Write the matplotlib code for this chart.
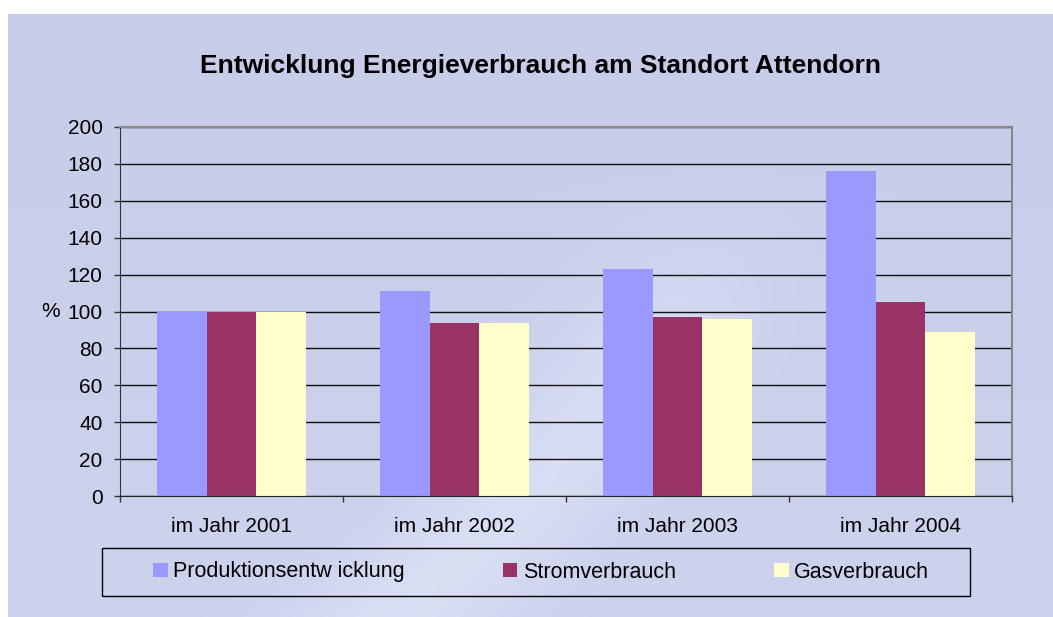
import numpy as np
import matplotlib
matplotlib.use("Agg")
import matplotlib.pyplot as plt
from matplotlib.patches import Rectangle
from matplotlib.ticker import FixedLocator

plt.rcParams['font.family'] = ['Liberation Sans', 'DejaVu Sans']

categories = ["im Jahr 2001", "im Jahr 2002", "im Jahr 2003", "im Jahr 2004"]
series_names = ["Produktionsentw icklung", "Stromverbrauch", "Gasverbrauch"]
produktion = [100, 111, 123, 176]
strom = [100, 94, 97, 105]
gas = [100, 94, 96, 89]
colors = ["#9999FF", "#993366", "#FFFFCC"]
title = "Entwicklung Energieverbrauch am Standort Attendorn"
yticks = [0, 20, 40, 60, 80, 100, 120, 140, 160, 180, 200]

W, H = 1053, 617
fig = plt.figure(figsize=(W / 100, H / 100), dpi=100)
fig.patch.set_facecolor("white")

# background (textured look approximated by smooth gradient + light swoosh)
bg = fig.add_axes([8 / W, 0, (W - 8) / W, (H - 14) / H], zorder=-10)
bg.set_axis_off()
ny, nx = 300, 520
yy, xx = np.mgrid[0:1:ny * 1j, 0:1:nx * 1j]  # yy=0 top
base = np.array([199, 204, 233]) / 255.0
light = np.array([220, 226, 245]) / 255.0
t = 0.3 * yy
cx = 0.62 - 0.35 * (yy - 0.25)
d = np.abs(xx - cx - 0.1 * np.sin(yy * 3.0))
sw = np.exp(-(d / 0.1) ** 2) * np.clip((yy - 0.25) / 0.3, 0, 1) * 0.55
w = np.clip(t + sw, 0, 1)[..., None]
img = base * (1 - w) + light * w
bg.imshow(img, aspect="auto", extent=[0, 1, 0, 1], interpolation="bilinear")

ax = fig.add_axes([120 / W, 1 - 496 / H, (1012 - 120) / W, (496 - 127) / H])
ax.patch.set_alpha(0)

x = np.arange(len(categories))
bw = 1 / 4.5
for i, (vals, name, c) in enumerate(zip([produktion, strom, gas], series_names, colors)):
    ax.bar(x + (i - 1) * bw, vals, width=bw, color=c, edgecolor="none", label=name, zorder=2)

ax.set_xlim(-0.5, len(categories) - 0.5)
ax.set_ylim(0, 200)
ax.set_yticks(yticks)
ax.set_axisbelow(True)
ax.yaxis.grid(True, color="#111111", linewidth=1.0)
ax.tick_params(axis="y", direction="out", length=4, width=1, pad=8.5, labelsize=15, color="#333333")
ax.set_xticks(x)
ax.set_xticklabels(categories)
ax.xaxis.set_minor_locator(FixedLocator(np.arange(-0.5, len(categories), 1.0)))
ax.tick_params(axis="x", which="major", length=0, pad=15, labelsize=15)
ax.tick_params(axis="x", which="minor", direction="out", length=4, width=1, color="#333333")

for s in ["top", "right"]:
    ax.spines[s].set_color("#888888")
    ax.spines[s].set_linewidth(1.5)
ax.spines["left"].set_color("#333333")
ax.spines["bottom"].set_color("#222222")

ax.set_ylabel("%", rotation=0, fontsize=15, va="center", ha="center")
ax.yaxis.set_label_coords(-0.078, 0.5)

fig.text(540 / W, 1 - 66 / H, title, ha="center", va="center", fontsize=19, fontweight="bold")

# legend
fig.patches.append(Rectangle((102 / W, 1 - 596 / H), (970 - 102) / W, (596 - 548) / H,
                             transform=fig.transFigure, fill=False, edgecolor="black", linewidth=1.0))
leg = ax.legend(loc="center", bbox_to_anchor=(153 / W, 1 - 590 / H, (929 - 153) / W, 36 / H),
                bbox_transform=fig.transFigure, mode="expand", ncol=3, frameon=False,
                fontsize=15.5, handlelength=0.68, handleheight=0.68, handletextpad=0.25,
                borderaxespad=0, borderpad=0)

fig.savefig("out.png", dpi=100)
